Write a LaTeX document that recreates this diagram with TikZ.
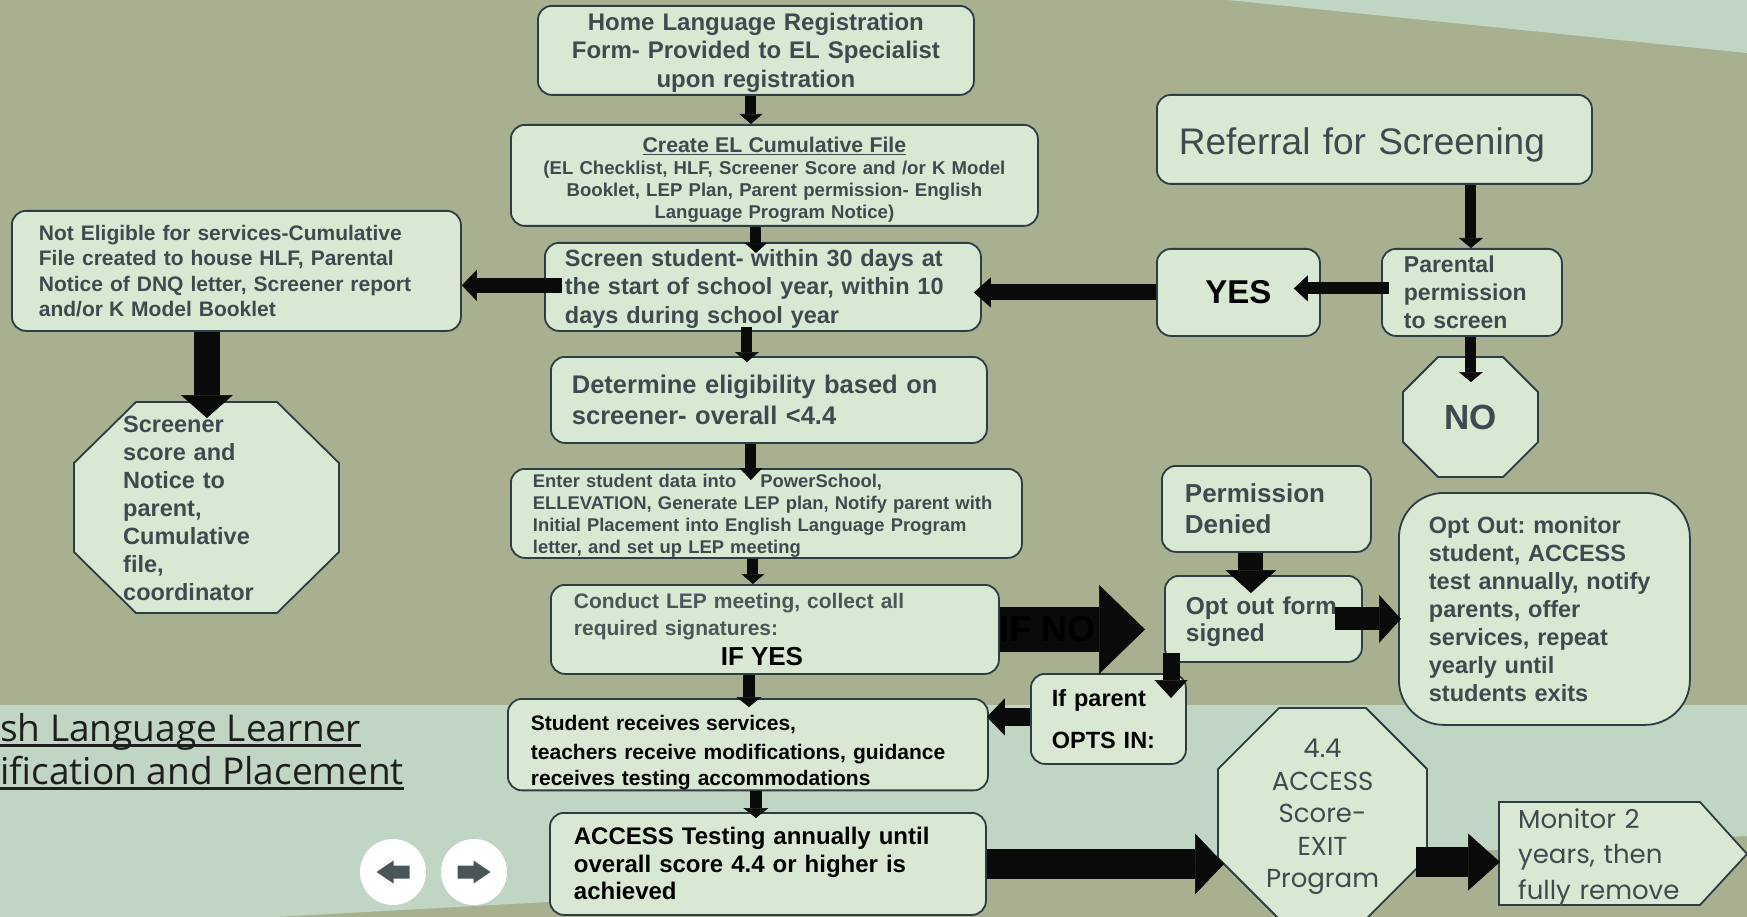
\documentclass[tikz,border=0pt]{standalone}
\usepackage{fontspec}
\setmainfont{Liberation Sans}
\newfontfamily\opensans{Open Sans}
\newfontfamily\popp{Poppins}
\usetikzlibrary{arrows.meta}
\definecolor{olivebg}{HTML}{A9B08F}
\definecolor{bandbg}{HTML}{C0D5C3}
\definecolor{boxfill}{HTML}{D9E8D2}
\definecolor{boxline}{HTML}{2E3C43}
\definecolor{txt}{HTML}{3D4B50}
\definecolor{txtb}{HTML}{4A565A}
\definecolor{arrc}{HTML}{0A0A0A}
\definecolor{navc}{HTML}{4A5559}
\definecolor{titlec}{HTML}{1E1E1E}
\newcommand\myfs[2]{\fontsize{#1pt}{#2pt}\selectfont}
\newcommand\myul[3]{\leavevmode\setbox0=\hbox{#3}\rlap{\rule[-#1]{\wd0}{#2}}\box0}
\newcommand\mystrut[1]{\rule{0pt}{#1}}
\pgfdeclarelayer{bg}
\pgfdeclarelayer{shp}
\pgfsetlayers{bg,shp,main}
\begin{document}
\frenchspacing
\begin{tikzpicture}[x=1pt,y=-1pt,
  box/.style={draw=boxline, fill=boxfill, line width=1.8pt, rounded corners=14pt, inner sep=0pt, anchor=north west, text=txt},
  shapeline/.style={draw=boxline, fill=boxfill, line width=1.8pt},
  blk/.style n args={3}{draw=arrc, line width=#1, -{Triangle[width=#2, length=#3, line width=0.6pt]}},
  navbtn/.style={circle, fill=white, minimum size=66pt, inner sep=0pt}]
\useasboundingbox (0,0) rectangle (1747,917);
\begin{pgfonlayer}{bg}
\fill[olivebg] (0,0) rectangle (1747,917);
\fill[bandbg] (1228,0) -- (1747,0) -- (1747,53) -- cycle;
\fill[bandbg] (0,705) -- (1747,705) -- (1747,836) -- (275,917) -- (0,917) -- cycle;
\end{pgfonlayer}

% title
\node[anchor=north west, align=left, font=\opensans\myfs{37}{43}, text=titlec, inner sep=0pt] (ttl) at (0,713)
  {\myul{5.5pt}{3pt}{sh Language Learner}\\\myul{5.5pt}{3pt}{ification and Placement}};

% navigation buttons
\node[navbtn] (bprev) at (393,872) {};
\node[navbtn] (bnext) at (474,872) {};
\fill[navc, shift={(bprev.center)}] (-16.5,0) -- (0.5,-11.5) -- (0.5,-6.5) -- (16.5,-6.5) -- (16.5,6.5) -- (0.5,6.5) -- (0.5,11.5) -- cycle;
\fill[navc, shift={(bnext.center)}] (16.5,0) -- (-0.5,-11.5) -- (-0.5,-6.5) -- (-16.5,-6.5) -- (-16.5,6.5) -- (-0.5,6.5) -- (-0.5,11.5) -- cycle;

% boxes
\node[box, minimum width=436pt, minimum height=89pt, text width=420pt, align=center, font=\bfseries\myfs{24}{28.5}] (home) at (537,5)
  {\mystrut{22pt}Home Language Registration\\Form- Provided to EL Specialist\\upon registration};
\node[box, minimum width=527pt, minimum height=101pt, text width=515pt, align=center, font=\bfseries\myfs{18.6}{22}] (cef) at (510,124)
  {{\myfs{21.3}{22}\mystrut{24.5pt}\myul{2.5pt}{1.4pt}{Create EL Cumulative File}}\\(EL Checklist, HLF, Screener Score and /or K Model\\Booklet, LEP Plan, Parent permission- English\\Language Program Notice)};
\node[box, minimum width=436pt, minimum height=88pt, text width=396pt, align=left, font=\bfseries\myfs{23.5}{28.5}] (scr) at (544,242)
  {\mystrut{21pt}Screen student-\hspace{7pt}within 30 days at\\the start of school year, within 10\\days during school year};
\node[box, minimum width=436pt, minimum height=86pt, text width=394pt, align=left, font=\bfseries\myfs{25.5}{31}] (det) at (550,356)
  {Determine eligibility based on\\screener- overall <4.4};
\node[box, minimum width=511pt, minimum height=89pt, text width=467pt, align=left, font=\bfseries\myfs{18.4}{21.7}] (ent) at (510,468)
  {\mystrut{18pt}Enter student data into\hspace{24pt}PowerSchool,\\ELLEVATION, Generate LEP plan, Notify parent with\\Initial Placement into English Language Program\\letter, and set up LEP meeting};
\node[box, minimum width=448pt, minimum height=89pt, text width=402pt, align=left, font=\bfseries\myfs{21}{27}, text=txtb] (con) at (550,584)
  {Conduct LEP meeting, collect all\\required signatures:\\[3pt]\hspace*{147pt}{\color{black}\myfs{26}{27}IF YES}};
\node[box, minimum width=480pt, minimum height=89pt, text width=434pt, align=left, font=\bfseries\myfs{21}{26}, text=black] (stu) at (507,698)
  {\mystrut{32pt}Student receives\hspace{6pt}services,\\[3pt]teachers receive modifications, guidance\\receives testing accommodations};
\node[box, minimum width=436pt, minimum height=102pt, text width=388pt, align=left, font=\bfseries\myfs{24}{27.5}, text=black] (acc) at (549,812)
  {ACCESS Testing annually until\\overall score 4.4 or higher is\\achieved};
\node[box, minimum width=449pt, minimum height=120pt, text width=395pt, align=left, font=\bfseries\myfs{21}{25.5}] (nel) at (11,210)
  {Not Eligible for services-Cumulative\\File created to house HLF, Parental\\Notice of DNQ letter, Screener report\\and/or\hspace{6pt}K Model Booklet};
\node[box, minimum width=435pt, minimum height=89pt, text width=391pt, align=left, font=\myfs{37}{40}] (ref) at (1156,94)
  {\mystrut{38pt}Referral for Screening};
\node[box, minimum width=163pt, minimum height=87pt, font=\bfseries\myfs{33}{33}, text=black] (yes) at (1156,248) {YES};
\node[box, minimum width=180pt, minimum height=87pt, text width=136pt, align=left, font=\bfseries\myfs{23}{28}] (par) at (1381,248)
  {Parental\\permission\\to screen};
\node[box, minimum width=209pt, minimum height=86pt, text width=163pt, align=left, font=\bfseries\myfs{26}{31}] (pd) at (1161,465)
  {Permission\\Denied};
\node[box, minimum width=197pt, minimum height=86pt, text width=155pt, align=left, font=\bfseries\myfs{24.5}{27}] (oof) at (1164,575)
  {\mystrut{23.5pt}Opt out form\\signed};
\node[box, rounded corners=45pt, minimum width=291pt, minimum height=232pt, text width=231pt, align=left, font=\bfseries\myfs{23.5}{28}] (oom) at (1398,492)
  {Opt Out: monitor\\student, ACCESS\\test annually, notify\\parents, offer\\services, repeat\\yearly until\\students exits};
\node[box, minimum width=155pt, minimum height=90pt, text width=113pt, align=left, font=\bfseries\myfs{23.5}{42}, text=black] (ifp) at (1030,673)
  {If parent\\OPTS IN:};

% octagons and pentagon
\begin{pgfonlayer}{shp}
\path[shapeline] (136,402) -- (277,402) -- (339,463) -- (339,552) -- (277,613) -- (136,613) -- (74,552) -- (74,463) -- cycle;
\path[shapeline] (1438,357) -- (1503,357) -- (1538,392) -- (1538,442) -- (1503,477) -- (1438,477) -- (1403,442) -- (1403,392) -- cycle;
\path[shapeline] (1279,708) -- (1366,708) -- (1427,769) -- (1427,858) -- (1366,919) -- (1279,919) -- (1218,858) -- (1218,769) -- cycle;
\path[shapeline] (1499,802) -- (1700,802) -- (1747,854) -- (1700,905) -- (1499,905) -- cycle;
\end{pgfonlayer}
\coordinate (scrtop) at (206.5,402);
\coordinate (notop) at (1470.5,357);
\coordinate (exw) at (1218,863);
\coordinate (exe) at (1427,862);
\coordinate (monw) at (1499,853.5);
\node[anchor=west, text width=150pt, align=left, inner sep=0pt, font=\bfseries\myfs{23.5}{28}, text=txt] (scrn) at (123,508)
  {Screener\\score and\\Notice to\\parent,\\Cumulative\\file,\\coordinator};
\node[inner sep=0pt, font=\bfseries\myfs{35}{35}, text=txt] (no) at (1470.5,417) {NO};
\node[inner sep=0pt, align=center, font=\popp\myfs{26}{32.5}, text=txt] (ex) at (1322.5,817) {4.4\\ACCESS\\Score-\\EXIT\\Program};
\node[anchor=west, text width=170pt, align=left, inner sep=0pt, font=\popp\myfs{26}{35.5}, text=txt] (mon) at (1518,857)
  {Monitor 2\\years, then\\fully remove};

% connectors
\draw[blk={11pt}{23pt}{10pt}] ([xshift=-5pt]home.south) -- ([xshift=-5pt]home.south |- cef.north);
\draw[blk={11pt}{22pt}{10pt}, shorten >=-11pt] ([xshift=-18.5pt]cef.south) -- ([xshift=-18.5pt]cef.south |- scr.north);
\draw[blk={11pt}{24pt}{10pt}, shorten <=-5pt, shorten >=-6pt] ([xshift=-16pt]scr.south) -- ([xshift=-16pt]scr.south |- det.north);
\draw[blk={11pt}{23pt}{12pt}, shorten >=-12pt] ([xshift=-18pt]det.south) -- ([xshift=-18pt]det.south |- ent.north);
\draw[blk={11pt}{23pt}{10pt}] ([xshift=-13.5pt]ent.south) -- ([xshift=-13.5pt]ent.south |- con.north);
\draw[blk={12pt}{25pt}{10pt}, shorten >=-9pt] ([xshift=-26pt]con.south) -- ([xshift=-26pt]con.south |- stu.north);
\draw[blk={12pt}{25pt}{10pt}, shorten >=-6pt] ([xshift=8pt]stu.south) -- ([xshift=8pt]stu.south |- acc.north);
\draw[blk={15pt}{31pt}{15pt}, shorten <=-18pt] ([yshift=1.5pt]scr.west) -- ([yshift=1.5pt]scr.west -| nel.east);
\draw[blk={26pt}{52pt}{23pt}, shorten >=-16pt] ([xshift=-29.5pt]nel.south) -- ([xshift=-29.5pt]nel.south |- scrtop);
\draw[blk={11pt}{24pt}{10pt}] ([xshift=96.5pt]ref.south) -- ([xshift=96.5pt]ref.south |- par.north);
\draw[blk={12pt}{26pt}{14pt}, shorten <=-8pt, shorten >=-27pt] ([yshift=4pt]par.west) -- ([yshift=4pt]par.west -| yes.east);
\draw[blk={16pt}{30pt}{17pt}, shorten >=-8pt] (yes.west) -- (yes.west -| scr.east);
\draw[blk={11pt}{24pt}{10pt}, shorten >=-25pt] ([xshift=-1pt]par.south) -- ([xshift=-1pt]par.south |- notop);
\draw[blk={45pt}{89pt}{46pt}, shorten >=19pt] (con.east) -- node[pos=0, anchor=west, inner sep=0pt, outer sep=0pt, font=\bfseries\myfs{36}{36}, text=black] (ifno) {IF NO} (con.east -| oof.west);
\draw[blk={25pt}{51pt}{23pt}, shorten >=-18pt] ([xshift=-15.5pt]pd.south) -- ([xshift=-15.5pt]pd.south |- oof.north);
\draw[blk={23pt}{48pt}{22pt}, shorten <=-28pt, shorten >=-3pt] (oof.east) -- (oof.east -| oom.west);
\draw[blk={17pt}{33pt}{18pt}, shorten <=-10pt, shorten >=-25pt] ([xshift=7pt]oof.south west) -- ([xshift=7pt]oof.south west |- ifp.north);
\draw[blk={18pt}{37pt}{18pt}, shorten >=-2pt] ([yshift=2pt]ifp.west) -- ([yshift=2pt]ifp.west -| stu.east);
\draw[blk={30pt}{61pt}{29pt}, shorten >=-6pt] (acc.east) -- (acc.east -| exw);
\draw[blk={30pt}{57pt}{32pt}, shorten <=-11pt, shorten >=-1pt] (exe) -- (exe -| monw);
\end{tikzpicture}
\end{document}
